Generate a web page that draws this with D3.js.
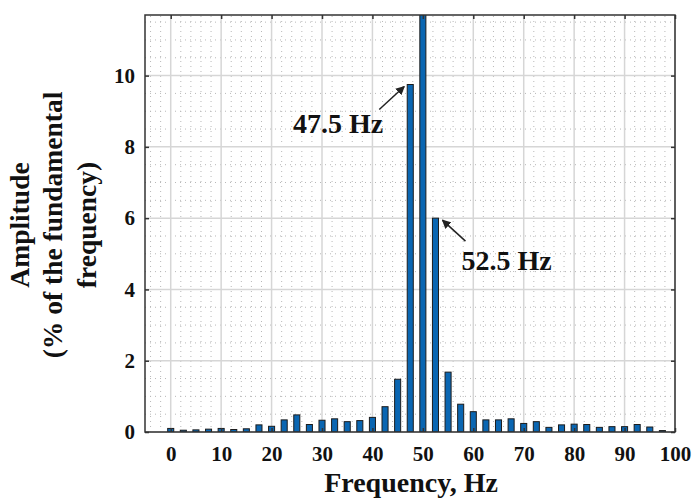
<!DOCTYPE html>
<html>
<head>
<meta charset="utf-8">
<script src="https://cdn.jsdelivr.net/npm/d3@7"></script>
<style>
  body { margin: 0; background: #fff; }
  text { font-family: "Liberation Serif", "Times New Roman", serif; font-weight: bold; fill: #111; }
</style>
</head>
<body>
<div id="container"></div>
<script>
const frequencies = [0, 2.5, 5, 7.5, 10, 12.5, 15, 17.5, 20, 22.5, 25, 27.5, 30, 32.5, 35, 37.5,
  40, 42.5, 45, 47.5, 50, 52.5, 55, 57.5, 60, 62.5, 65, 67.5, 70, 72.5, 75, 77.5,
  80, 82.5, 85, 87.5, 90, 92.5, 95, 97.5]
const amplitudes = [0.1, 0.05, 0.06, 0.08, 0.1, 0.07, 0.09, 0.2, 0.16, 0.34, 0.48, 0.21, 0.33, 0.37, 0.29, 0.32,
  0.41, 0.71, 1.48, 9.75, 12, 6.0, 1.68, 0.78, 0.57, 0.34, 0.34, 0.37, 0.24, 0.29, 0.13, 0.2,
  0.22, 0.21, 0.13, 0.15, 0.15, 0.21, 0.14, 0.04]
const xTicks = [0, 10, 20, 30, 40, 50, 60, 70, 80, 90, 100]
const yTicks = [0, 2, 4, 6, 8, 10]
const annotations = [
  {label: "47.5 Hz", freq: 47.5, amp: 9.75},
  {label: "52.5 Hz", freq: 52.5, amp: 6.0}
]

const width = 694
const height = 498
const margin = {top: 15, right: 19, bottom: 66, left: 145}

const svg = d3.create("svg")
  .attr("width", width)
  .attr("height", height)

const x = d3.scaleLinear()
  .domain([-5.1, 100])
  .range([margin.left, width - margin.right])

const y = d3.scaleLinear()
  .domain([0, 11.7])
  .range([height - margin.bottom, margin.top])

const x0 = margin.left, x1 = width - margin.right
const y0 = height - margin.bottom, y1 = margin.top

svg.append("defs").append("clipPath").attr("id", "plot-clip")
  .append("rect")
  .attr("x", x0).attr("y", y1)
  .attr("width", x1 - x0).attr("height", y0 - y1)

svg.append("defs").append("marker")
  .attr("id", "arrow")
  .attr("viewBox", "0 0 10 10")
  .attr("refX", 9).attr("refY", 5)
  .attr("markerWidth", 9).attr("markerHeight", 9)
  .attr("markerUnits", "userSpaceOnUse")
  .attr("orient", "auto")
  .append("path")
  .attr("d", "M0,0 L10,5 L0,10 z")
  .attr("fill", "#222")

// minor grid (dotted)
const minorX = d3.range(-4, 100, 2).filter(v => v % 10 !== 0)
const minorY = d3.range(0.5, 11.7, 0.5).filter(v => v % 2 !== 0)

const grid = svg.append("g").attr("id", "grid")
grid.selectAll(".minor-x")
  .data(minorX)
  .enter().append("line")
  .attr("x1", d => x(d)).attr("x2", d => x(d))
  .attr("y1", y0).attr("y2", y1)
  .attr("stroke", "#b8b8b8")
  .attr("stroke-width", 1)
  .attr("stroke-dasharray", "1,4")

grid.selectAll(".minor-y")
  .data(minorY)
  .enter().append("line")
  .attr("x1", x0).attr("x2", x1)
  .attr("y1", d => y(d)).attr("y2", d => y(d))
  .attr("stroke", "#b8b8b8")
  .attr("stroke-width", 1)
  .attr("stroke-dasharray", "1,4")

// major grid
grid.selectAll(".major-x")
  .data(xTicks)
  .enter().append("line")
  .attr("x1", d => x(d)).attr("x2", d => x(d))
  .attr("y1", y0).attr("y2", y1)
  .attr("stroke", "#d6d6d6")
  .attr("stroke-width", 1.5)

grid.selectAll(".major-y")
  .data(yTicks)
  .enter().append("line")
  .attr("x1", x0).attr("x2", x1)
  .attr("y1", d => y(d)).attr("y2", d => y(d))
  .attr("stroke", "#d6d6d6")
  .attr("stroke-width", 1.5)

// bars
const barWidth = x(1.2) - x(0)
svg.append("g")
  .attr("clip-path", "url(#plot-clip)")
  .selectAll(".bar")
  .data(frequencies)
  .enter().append("rect")
  .attr("class", "bar")
  .attr("x", d => x(d) - barWidth / 2)
  .attr("y", (d, i) => y(amplitudes[i]))
  .attr("width", barWidth)
  .attr("height", (d, i) => y(0) - y(amplitudes[i]))
  .attr("fill", "#0a66b2")
  .attr("stroke", "#1c1c1c")
  .attr("stroke-width", 1)

// axes
svg.append("g")
  .attr("transform", `translate(0, ${y0})`)
  .call(d3.axisBottom(x).tickValues(xTicks).tickSize(-4).tickPadding(14))
  .call(g => g.select(".domain").remove())
  .call(g => g.selectAll("text").attr("font-size", 21).attr("fill", "#111"))
  .call(g => g.selectAll(".tick line").attr("stroke", "#333").attr("stroke-width", 1.5))

svg.append("g")
  .attr("transform", `translate(${x0}, 0)`)
  .call(d3.axisLeft(y).tickValues(yTicks).tickSize(-4).tickPadding(10))
  .call(g => g.select(".domain").remove())
  .call(g => g.selectAll("text").attr("font-size", 21).attr("fill", "#111"))
  .call(g => g.selectAll(".tick line").attr("stroke", "#333").attr("stroke-width", 1.5))

svg.append("g")
  .attr("transform", `translate(0, ${y1})`)
  .call(d3.axisTop(x).tickValues(xTicks).tickSize(-4).tickFormat(""))
  .call(g => g.select(".domain").remove())
  .call(g => g.selectAll(".tick line").attr("stroke", "#333").attr("stroke-width", 1.5))

svg.append("g")
  .attr("transform", `translate(${x1}, 0)`)
  .call(d3.axisRight(y).tickValues(yTicks).tickSize(-4).tickFormat(""))
  .call(g => g.select(".domain").remove())
  .call(g => g.selectAll(".tick line").attr("stroke", "#333").attr("stroke-width", 1.5))

// frame
svg.append("rect")
  .attr("x", x0).attr("y", y1)
  .attr("width", x1 - x0).attr("height", y0 - y1)
  .attr("fill", "none")
  .attr("stroke", "#333")
  .attr("stroke-width", 1.5)

// annotations
const ann0 = annotations[0]
svg.append("line")
  .attr("x1", x(ann0.freq) - 31).attr("y1", y(ann0.amp) + 25)
  .attr("x2", x(ann0.freq) - 6).attr("y2", y(ann0.amp) + 2)
  .attr("stroke", "#222").attr("stroke-width", 1.5)
  .attr("marker-end", "url(#arrow)")
svg.append("text")
  .attr("x", x(ann0.freq) - 27).attr("y", y(ann0.amp) + 48)
  .attr("text-anchor", "end")
  .attr("font-size", 28)
  .text(ann0.label)

const ann1 = annotations[1]
svg.append("line")
  .attr("x1", x(ann1.freq) + 30).attr("y1", y(ann1.amp) + 23)
  .attr("x2", x(ann1.freq) + 7).attr("y2", y(ann1.amp) + 2)
  .attr("stroke", "#222").attr("stroke-width", 1.5)
  .attr("marker-end", "url(#arrow)")
svg.append("text")
  .attr("x", x(ann1.freq) + 26).attr("y", y(ann1.amp) + 52)
  .attr("text-anchor", "start")
  .attr("font-size", 28)
  .text(ann1.label)

// axis titles
svg.append("text")
  .attr("x", 411)
  .attr("y", 492)
  .attr("text-anchor", "middle")
  .attr("font-size", 28)
  .text("Frequency, Hz")

const yTitle = svg.append("text")
  .attr("transform", "translate(29, 225) rotate(-90)")
  .attr("text-anchor", "middle")
  .attr("font-size", 27.5)
yTitle.append("tspan").attr("x", 0).attr("dy", 0).text("Amplitude")
yTitle.append("tspan").attr("x", 0).attr("dy", 33).text("(% of the fundamental")
yTitle.append("tspan").attr("x", 0).attr("dy", 34).text("frequency)")

document.querySelector("#container").appendChild(svg.node())
</script>
</body>
</html>
